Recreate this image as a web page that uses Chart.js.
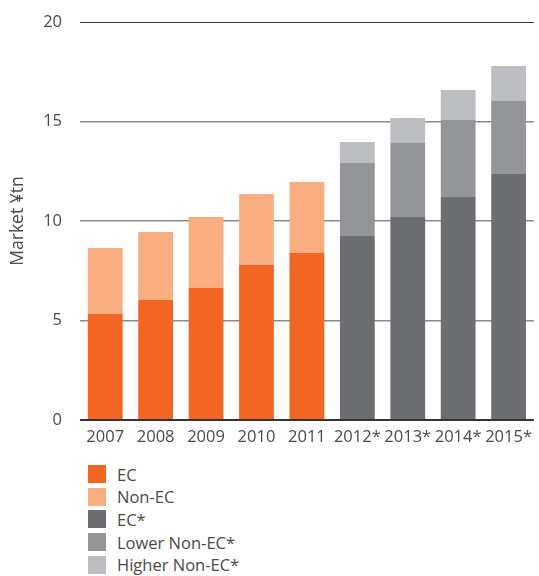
<!DOCTYPE html>
<html>
<head>
<meta charset="utf-8">
<script src="https://cdn.jsdelivr.net/npm/chart.js@4"></script>
<style>
  body { margin: 0; background: #fff; font-family: "Open Sans", "Noto Sans", sans-serif; }
  #wrap { position: relative; width: 539px; height: 450px; }
  #legend { position: absolute; left: 88px; top: 463px; margin: 0; padding: 0; list-style: none; }
  #legend li { height: 22.6px; display: flex; align-items: center; font-size: 16.5px; color: #4a4a4a; }
  #legend span.box { width: 18px; height: 18px; margin-right: 11px; display: inline-block; }
</style>
</head>
<body>
<div id="wrap"><canvas id="myChart"></canvas></div>
<ul id="legend"></ul>
<script>
const years = ["2007", "2008", "2009", "2010", "2011", "2012*", "2013*", "2014*", "2015*"];
const ecValues = [5.33, 6.03, 6.63, 7.79, 8.39, null, null, null, null];
const nonEcValues = [3.31, 3.42, 3.57, 3.57, 3.57, null, null, null, null];
const ecForecast = [null, null, null, null, null, 9.25, 10.2, 11.2, 12.36];
const lowerNonEc = [null, null, null, null, null, 3.66, 3.72, 3.88, 3.67];
const higherNonEc = [null, null, null, null, null, 1.06, 1.26, 1.5, 1.76];
const yTicks = [0, 5, 10, 15, 20];

const seriesNames = ["EC", "Non-EC", "EC*", "Lower Non-EC*", "Higher Non-EC*"];
const seriesColors = ["#f26522", "#f9ae82", "#6d6e71", "#949599", "#bdbec1"];
const seriesData = [ecValues, nonEcValues, ecForecast, lowerNonEc, higherNonEc];

const fontFamily = "'Open Sans', 'Noto Sans', sans-serif";
const tickFont = { family: fontFamily, size: 16.5 };

const ctx = document.getElementById('myChart').getContext('2d');
const myChart = new Chart(ctx, {
    type: 'bar',
    data: {
        labels: years,
        datasets: seriesNames.map((name, i) => ({
            label: name,
            data: seriesData[i],
            backgroundColor: seriesColors[i],
            borderWidth: 0,
            barPercentage: 0.69,
            categoryPercentage: 1.0
        }))
    },
    options: {
        responsive: true,
        maintainAspectRatio: false,
        animation: false,
        layout: { padding: { top: 22, right: 0, bottom: 0, left: 0 } },
        plugins: {
            legend: { display: false },
            tooltip: { enabled: false }
        },
        scales: {
            x: {
                stacked: true,
                grid: { display: false, drawTicks: false },
                border: { display: false },
                ticks: { color: '#4a4a4a', font: tickFont, padding: 7, maxRotation: 0, autoSkip: false },
                afterFit: (scale) => { scale.height = 30; }
            },
            y: {
                stacked: true,
                min: 0,
                max: 20,
                afterBuildTicks: (scale) => { scale.ticks = yTicks.map(v => ({ value: v })); },
                grid: {
                    drawTicks: false,
                    color: (c) => (c.tick.value === 0 || c.tick.value === 20) ? '#333333' : '#8a8a8a',
                    lineWidth: (c) => c.tick.value === 0 ? 2 : (c.tick.value === 20 ? 1 : 1.5)
                },
                border: { display: false },
                ticks: { color: '#4a4a4a', font: tickFont, padding: 18 },
                title: {
                    display: true,
                    text: 'Market ¥tn',
                    color: '#4a4a4a',
                    font: { family: fontFamily, size: 17.5 },
                    padding: { top: 8, bottom: 0 }
                },
                afterFit: (scale) => {
                    scale.width = 80;
                    scale.paddingTop = 0;
                    scale.paddingBottom = 0;
                }
            }
        }
    }
});

const legendEl = document.getElementById('legend');
myChart.data.datasets.forEach(ds => {
    const li = document.createElement('li');
    li.innerHTML = '<span class="box" style="background:' + ds.backgroundColor + '"></span>' + ds.label;
    legendEl.appendChild(li);
});
</script>
</body>
</html>
